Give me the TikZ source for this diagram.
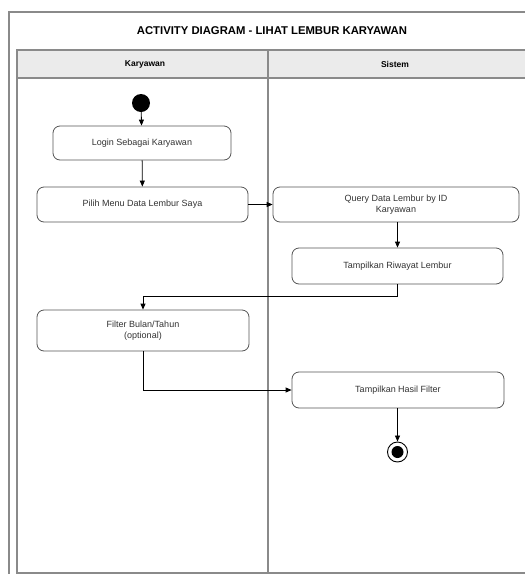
\documentclass[tikz,border=0pt]{standalone}
\usepackage{fontspec}
\setmainfont{Liberation Sans}
\usetikzlibrary{arrows.meta}
\definecolor{framegray}{HTML}{8A8A8A}
\definecolor{headfill}{HTML}{EBEBEB}
\definecolor{boxline}{HTML}{555555}
\definecolor{textgray}{HTML}{333333}
\tikzset{
  actbox/.style={draw=boxline, line width=0.8pt, rounded corners=7pt, fill=white,
    align=center, inner sep=2pt, text=textgray, font=\fontsize{9}{11.5}\selectfont},
  arr/.style={draw=black, line width=0.8pt, -{Triangle[length=6pt,width=5pt]}},
  frameline/.style={draw=framegray, line width=1.1pt},
  lanehead/.style={font=\bfseries\fontsize{8.5}{10}\selectfont},
}
\begin{document}
\begin{tikzpicture}[x=1pt,y=-1pt]
\useasboundingbox (0,0) rectangle (525,574);
\clip (0,0) rectangle (525,574);
\fill[white] (0,0) rectangle (525,574);
% outer frame
\draw[frameline] (9,12) rectangle (540,590);
% title
\node[font=\bfseries\fontsize{11.3}{13}\selectfont] (title) at (272,31) {ACTIVITY DIAGRAM - LIHAT LEMBUR KARYAWAN};
% swimlane header
\fill[headfill] (17,50) rectangle (532,78);
\draw[frameline] (17,50) rectangle (532,573);
\draw[frameline] (17,78) -- (532,78);
\draw[frameline] (268,50) -- (268,573);
\node[lanehead] (lane1) at (145,64) {Karyawan};
\node[lanehead] (lane2) at (395,64) {Sistem};
% nodes
\node[circle, fill=black, minimum size=18pt, inner sep=0pt] (start) at (141,103) {};
\node[actbox, minimum width=178pt, minimum height=34pt] (login) at (142,143) {Login Sebagai Karyawan};
\node[actbox, minimum width=211pt, minimum height=35pt] (pilih) at (142.5,204.5) {Pilih Menu Data Lembur Saya};
\node[actbox, minimum width=246pt, minimum height=35pt] (query) at (396,204.5) {Query Data Lembur by ID\\Karyawan};
\node[actbox, minimum width=211pt, minimum height=36pt] (riwayat) at (397.5,266) {Tampilkan Riwayat Lembur};
\node[actbox, minimum width=212pt, minimum height=41pt] (filter) at (143,330.5) {Filter Bulan/Tahun\\(optional)};
\node[actbox, minimum width=212pt, minimum height=36pt] (hasil) at (398,390) {Tampilkan Hasil Filter};
\node[circle, draw=black, line width=0.9pt, minimum size=20pt, inner sep=0pt] (end) at (397.5,452) {};
\node[circle, fill=black, minimum size=12pt, inner sep=0pt] (endin) at (397.5,452) {};
% connectors
\draw[arr] (start) -- (login);
\draw[arr] (login) -- (pilih);
\draw[arr] (pilih) -- (query);
\draw[arr] (query.south -| riwayat) -- (riwayat);
\draw[arr] (riwayat.south) -- ++(0,12) -| (filter.north);
\draw[arr] (filter.south) |- (hasil.west);
\draw[arr] (hasil.south -| end) -- (end);
\end{tikzpicture}
\end{document}
